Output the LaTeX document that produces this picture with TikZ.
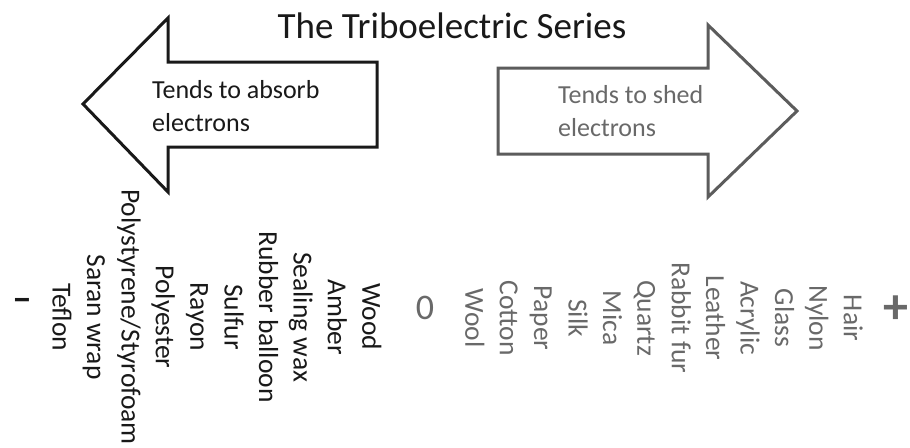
\documentclass[tikz,border=0pt]{standalone}
\usepackage{fontspec}
\setmainfont{Carlito}
\usetikzlibrary{positioning}
\definecolor{cNeg}{RGB}{25,25,25}
\definecolor{cPos}{RGB}{105,105,105}
\definecolor{cPosLine}{RGB}{92,92,92}

\begin{document}
\begin{tikzpicture}[x=1pt,y=-1pt,
   lst/.style={rotate=-90,align=center,inner sep=0pt,font=\fontsize{27.5}{34.4}\selectfont},
   lbl/.style={align=left,anchor=north west,inner sep=0pt,font=\fontsize{26}{33}\selectfont},
   arr/.style={line width=3pt,fill=white,line join=miter},
   sgn/.style={inner sep=0pt,font=\fontsize{36}{36}\selectfont}]
  \useasboundingbox[fill=white] (0,0) rectangle (910,447);
  \node[anchor=base,font=\fontsize{37}{37}\selectfont,text=cNeg] (title) at (452,38) {The Triboelectric Series};
  \draw[arr,draw=cNeg] (83,104) -- (168,18) -- (168,62) -- (377,62) -- (377,147) -- (168,147) -- (168,192) -- cycle;
  \draw[arr,draw=cPosLine] (797,111) -- (708,25) -- (708,68) -- (498,68) -- (498,154) -- (708,154) -- (708,197) -- cycle;
  \node[lbl,text=cNeg] (absorb) at (152,80) {Tends to absorb\\electrons};
  \node[lbl,text=cPos] (shed) at (558,85) {Tends to shed\\electrons};
  \node[lst,text=cNeg] (neg) at (217,317) {Wood\\Amber\\Sealing wax\\Rubber balloon\\Sulfur\\Rayon\\Polyester\\Polystyrene/Styrofoam\\Saran wrap\\Teflon};
  \node[lst,text=cPos] (pos) at (664,318) {Hair\\Nylon\\Glass\\Acrylic\\Leather\\Rabbit fur\\Quartz\\Mica\\Silk\\Paper\\Cotton\\Wool};
  \node[sgn,text=cNeg] (minus) at (22,305) {\textbf{−}};
  \node[sgn,text=cPos] (zero) at (425,308) {0};
  \node[sgn,text=cPos,font=\fontsize{50}{50}\selectfont] (plus) at (896,310) {\textbf{+}};
\end{tikzpicture}
\end{document}
